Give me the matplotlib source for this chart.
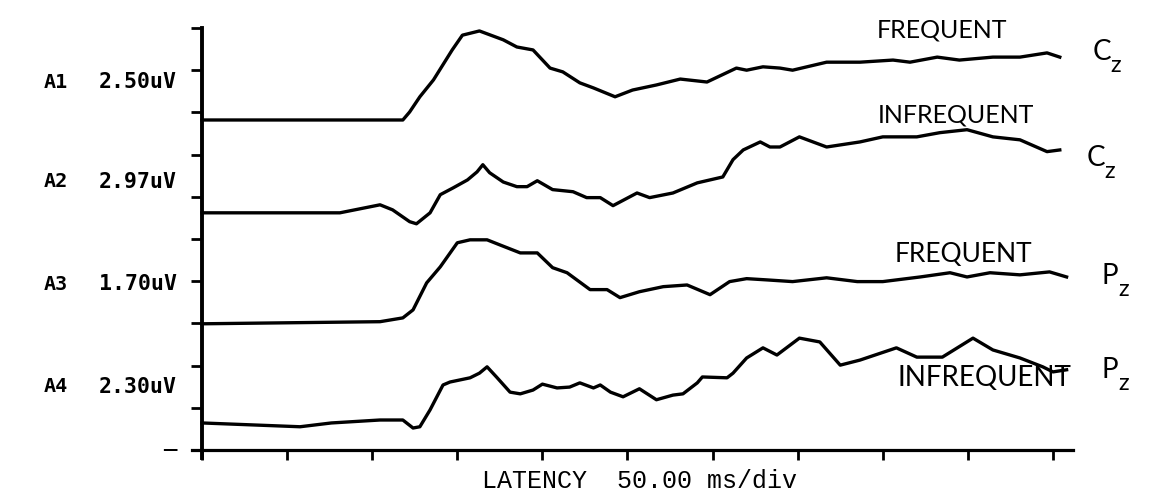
import matplotlib
matplotlib.use('Agg')
import matplotlib.pyplot as plt

# latency (ms) and amplitude (divisions above each channel's baseline)
lat_a1 = [0, 118, 122, 128, 136, 147, 153, 163, 177, 185, 194.5, 204.5, 212, 222, 230,
          242.7, 253, 267, 281, 296.7, 314, 320, 329.6, 339.6, 347, 367, 386.6, 406, 416,
          432, 445, 464.7, 480.6, 496.5, 504]
amp_a1 = [0, 0, 0.19, 0.55, 0.95, 1.66, 2.01, 2.11, 1.90, 1.73, 1.66, 1.23, 1.14, 0.88, 0.76,
          0.55, 0.71, 0.83, 0.97, 0.90, 1.23, 1.18, 1.26, 1.23, 1.18, 1.37, 1.37, 1.42, 1.37,
          1.49, 1.42, 1.49, 1.49, 1.59, 1.49]

lat_a2 = [0, 81, 104.6, 112, 122, 126, 134, 140, 147.5, 156, 161.6, 165, 169, 177, 185, 191,
          197, 206, 218, 226, 234, 241.5, 255.6, 263, 276.7, 291, 306, 312, 318, 328, 333.7,
          339.6, 351, 367, 386.6, 400, 420, 433.6, 449.5, 464.7, 480.6, 496.5, 504]
amp_a2 = [0, 0, 0.19, 0.07, -0.21, -0.26, 0, 0.43, 0.59, 0.78, 0.97, 1.14, 0.95, 0.73, 0.62, 0.62,
          0.76, 0.55, 0.50, 0.36, 0.36, 0.17, 0.47, 0.36, 0.47, 0.71, 0.85, 1.26, 1.49, 1.68, 1.56,
          1.56, 1.80, 1.56, 1.68, 1.80, 1.80, 1.90, 1.97, 1.80, 1.73, 1.45, 1.49]

lat_a3 = [0, 104.6, 118, 124, 132, 140, 150, 157.5, 167.5, 175, 187, 197, 206, 214.5, 228, 238,
          245.6, 257, 271, 285, 298.5, 310, 320, 332, 347, 367, 385, 400, 422, 439.5, 449.5,
          463, 480.6, 498, 508]
amp_a3 = [0, 0.05, 0.14, 0.33, 0.97, 1.35, 1.92, 1.99, 1.99, 1.87, 1.68, 1.68, 1.33, 1.21, 0.81, 0.81,
          0.62, 0.76, 0.88, 0.92, 0.69, 1.00, 1.07, 1.04, 1.00, 1.09, 1.00, 1.00, 1.11, 1.21, 1.11,
          1.21, 1.16, 1.23, 1.11]

lat_a4 = [0, 57.6, 76, 104.6, 118, 124, 128, 134, 141.6, 145.7, 157.5, 163, 167.5, 173, 181, 187,
          194.5, 200, 208.6, 216, 222, 230, 234, 240, 247.4, 257, 267, 276.7, 282.6, 291, 294,
          308.5, 312, 320, 329.6, 337.8, 351, 363, 375, 386.6, 408, 420, 435, 453, 464.7, 480.6,
          494, 500, 508]
amp_a4 = [0, -0.09, 0, 0.07, 0.07, -0.12, -0.09, 0.31, 0.90, 0.97, 1.07, 1.18, 1.33, 1.09, 0.73, 0.69,
          0.78, 0.92, 0.83, 0.85, 0.95, 0.83, 0.90, 0.73, 0.62, 0.81, 0.55, 0.66, 0.69, 0.95, 1.09,
          1.07, 1.18, 1.54, 1.78, 1.61, 2.01, 1.92, 1.37, 1.49, 1.78, 1.56, 1.56, 2.01, 1.73, 1.54,
          1.33, 1.21, 1.26]

channels = ['A1', 'A2', 'A3', 'A4']
scales = ['2.50uV', '2.97uV', '1.70uV', '2.30uV']
baselines = [7.82, 5.62, 2.99, 0.64]
x_ticks = list(range(0, 501, 50))
y_ticks = list(range(0, 11))

W, H = 1154, 495
fig = plt.figure(figsize=(W / 100, H / 100), dpi=100)
ax = fig.add_axes([191.8 / W, 36.6 / H, 881.6 / W, 430.4 / H])
ax.set_xlim(-6, 512)
ax.set_ylim(-0.2, 10)

traces = [(lat_a1, amp_a1), (lat_a2, amp_a2), (lat_a3, amp_a3), (lat_a4, amp_a4)]
for (lat, amp), base in zip(traces, baselines):
    ax.plot(lat, [a + base for a in amp], color='black', lw=2.4, solid_joinstyle='round')

# recorder style axes
for s in ['top', 'right']:
    ax.spines[s].set_visible(False)
ax.spines['left'].set_position(('data', 0))
ax.spines['bottom'].set_position(('data', 0))
ax.spines['left'].set_linewidth(2.8)
ax.spines['bottom'].set_linewidth(2.3)
ax.set_xticks(x_ticks)
ax.set_yticks(y_ticks)
ax.tick_params(axis='x', direction='out', length=7, width=2, labelbottom=False)
ax.tick_params(axis='y', direction='out', length=8, width=2, labelleft=False)
ax.text(-19, 0, '\u2014', ha='center', va='center', fontsize=11, fontweight='bold',
        clip_on=False)

# channel labels
label_y = [82, 182, 284, 387]
for ch, sc, y in zip(channels, scales, label_y):
    fig.text(44 / W, 1 - y / H, ch, ha='left', va='center', family='DejaVu Sans Mono',
             fontweight='bold', fontsize=14.5)
    fig.text(177 / W, 1 - y / H, sc, ha='right', va='center', family='DejaVu Sans Mono',
             fontweight='bold', fontsize=15.5)

fig.text(482 / W, 1 - 481 / H, 'LATENCY  50.00 ms/div', ha='left', va='center',
         family='Liberation Mono', fontsize=18)

# handwritten notes
hand = dict(family='Lato', color='black')
notes = [('FREQUENT', 877, 30, 18), ('INFREQUENT', 878, 115, 18),
         ('FREQUENT', 895, 254, 19), ('INFREQUENT', 897, 378, 20)]
for txt, x, y, fs in notes:
    fig.text(x / W, 1 - y / H, txt, ha='left', va='center', fontsize=fs, **hand)

sites = [('C', 1093, 52), ('C', 1087, 158), ('P', 1101, 276), ('P', 1101, 370)]
for letter, x, y in sites:
    fig.text(x / W, 1 - y / H, letter, ha='left', va='center', fontsize=20, **hand)
    fig.text((x + 17) / W, 1 - (y + 14) / H, 'z', ha='left', va='center', fontsize=17, **hand)

fig.savefig('out.png', dpi=100)
